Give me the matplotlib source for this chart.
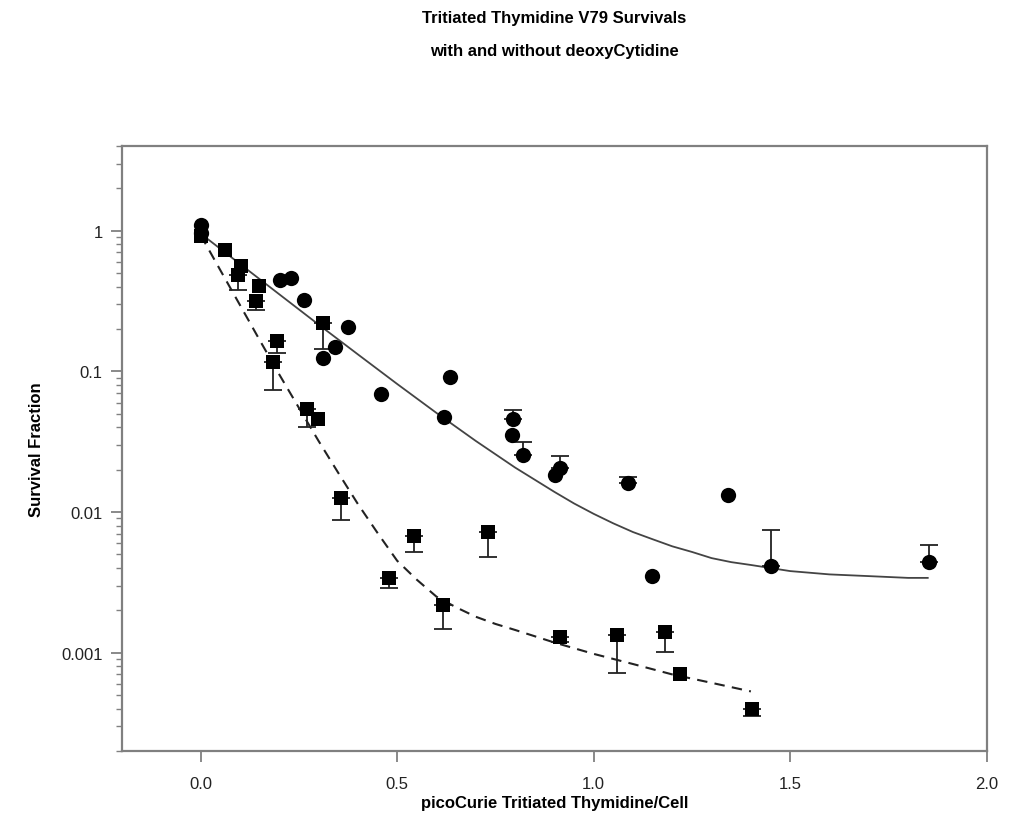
import numpy as np
import matplotlib.pyplot as plt
from matplotlib.ticker import LogLocator, FixedLocator, NullFormatter

plt.rcParams['font.family'] = ['Liberation Sans', 'DejaVu Sans']

# circles: survival points (with upper error caps where visible, 0 = none)
circ_x = [0.0, 0.0, 0.203, 0.229, 0.262, 0.312, 0.343, 0.376, 0.46, 0.618, 0.635,
          0.796, 0.793, 0.82, 0.902, 0.915, 1.088, 1.149, 1.342, 1.45, 1.853]
circ_y = [1.10, 0.97, 0.449, 0.46, 0.323, 0.125, 0.15, 0.208, 0.069, 0.047, 0.0917,
          0.046, 0.0355, 0.0256, 0.0184, 0.0206, 0.0162, 0.0035, 0.0131, 0.0041, 0.0044]
circ_up = [0, 0, 0, 0, 0, 0, 0, 0, 0, 0, 0,
           0.0527, 0, 0.0316, 0, 0.0249, 0.0178, 0, 0, 0.0074, 0.0058]

# squares: survival points (with lower error caps where visible, 0 = none)
sq_x = [0.0, 0.061, 0.102, 0.094, 0.148, 0.14, 0.193, 0.183, 0.27, 0.298, 0.312,
        0.358, 0.48, 0.544, 0.617, 0.73, 0.915, 1.06, 1.182, 1.22, 1.403]
sq_y = [0.92, 0.733, 0.564, 0.486, 0.406, 0.318, 0.163, 0.117, 0.0544, 0.046, 0.222,
        0.0126, 0.00338, 0.0068, 0.00217, 0.0072, 0.00129, 0.00134, 0.00141, 0.00070, 0.000398]
sq_lo = [0, 0, 0, 0.38, 0, 0.275, 0.134, 0.0741, 0.040, 0, 0.143,
         0.0088, 0.0029, 0.0052, 0.00148, 0.0048, 0.00120, 0.00072, 0.00101, 0, 0.000353]

# fitted curves
solid_x = [0.0, 0.1, 0.2, 0.3, 0.4, 0.5, 0.6, 0.7, 0.8, 0.9, 0.95, 1.0, 1.05, 1.1,
           1.15, 1.2, 1.25, 1.3, 1.35, 1.4, 1.5, 1.6, 1.7, 1.8, 1.85]
solid_y = [0.953, 0.580, 0.353, 0.215, 0.132, 0.0813, 0.0506, 0.032, 0.0207, 0.0139,
           0.0115, 0.0097, 0.0083, 0.0072, 0.0064, 0.0057, 0.0052, 0.0047, 0.0044,
           0.0042, 0.0038, 0.0036, 0.0035, 0.0034, 0.0034]
dash_x = [0.0, 0.05, 0.1, 0.15, 0.2, 0.25, 0.3, 0.35, 0.4, 0.45, 0.5, 0.55, 0.6,
          0.65, 0.7, 0.75, 0.8, 0.9, 1.0, 1.1, 1.2, 1.3, 1.4]
dash_y = [0.93, 0.524, 0.296, 0.167, 0.095, 0.055, 0.032, 0.019, 0.0114, 0.0071,
          0.0045, 0.0033, 0.0025, 0.0021, 0.0018, 0.0016, 0.00145, 0.00118, 0.00098,
          0.00083, 0.00070, 0.00061, 0.00053]

fig = plt.figure(figsize=(10.12, 8.37), dpi=100)
ax = fig.add_axes([0.1206, 0.1016, 0.8544, 0.7228])

ax.plot(solid_x, solid_y, '-', color='#444444', lw=1.3, zorder=2)
ax.plot(dash_x, dash_y, '--', color='#222222', lw=1.5, dashes=(5, 3.5), zorder=2)

# error bars (one-sided)
cx = np.array(circ_x); cy = np.array(circ_y); cu = np.array(circ_up)
m = cu > 0
ax.errorbar(cx[m], cy[m], yerr=[np.zeros(m.sum()), cu[m] - cy[m]], fmt='none',
            ecolor='#222222', elinewidth=1.3, capsize=6.8, capthick=1.3, zorder=3)
sx = np.array(sq_x); sy = np.array(sq_y); sl = np.array(sq_lo)
m = sl > 0
ax.errorbar(sx[m], sy[m], yerr=[sy[m] - sl[m], np.zeros(m.sum())], fmt='none',
            ecolor='#222222', elinewidth=1.3, capsize=6.8, capthick=1.3, zorder=3)

ax.plot(circ_x, circ_y, 'o', color='black', ms=11, mew=0, zorder=4)
ax.plot(sq_x, sq_y, 's', color='black', ms=10, mew=0, zorder=4)

ax.set_yscale('log')
ax.set_xlim(-0.2, 2.0)
ax.set_ylim(2e-4, 4)
ax.xaxis.set_major_locator(FixedLocator([0.0, 0.5, 1.0, 1.5, 2.0]))
ax.set_xticklabels(['0.0', '0.5', '1.0', '1.5', '2.0'])
ax.yaxis.set_major_locator(FixedLocator([0.001, 0.01, 0.1, 1]))
ax.set_yticklabels(['0.001', '0.01', '0.1', '1'])
ax.yaxis.set_minor_locator(LogLocator(base=10, subs=np.arange(2, 10)))
ax.yaxis.set_minor_formatter(NullFormatter())

for s in ax.spines.values():
    s.set_color('#808080')
    s.set_linewidth(1.6)
ax.tick_params(axis='both', which='major', direction='out', length=8, width=1.3,
               color='#808080', labelsize=12, labelcolor='#222222')
ax.tick_params(axis='x', which='major', pad=10)
ax.tick_params(axis='y', which='major', pad=6)
ax.tick_params(axis='y', which='minor', direction='out', length=4, width=1.0,
               color='#808080')

ax.set_xlabel('picoCurie Tritiated Thymidine/Cell', fontsize=12, fontweight='bold',
              labelpad=3)
ax.set_ylabel('Survival Fraction', fontsize=12, fontweight='bold', labelpad=12)

fig.text(0.548, 0.978, 'Tritiated Thymidine V79 Survivals', ha='center', va='center',
         fontsize=12, fontweight='bold')
fig.text(0.548, 0.939, 'with and without deoxyCytidine', ha='center', va='center',
         fontsize=12, fontweight='bold')

fig.savefig('out.png', dpi=100)
